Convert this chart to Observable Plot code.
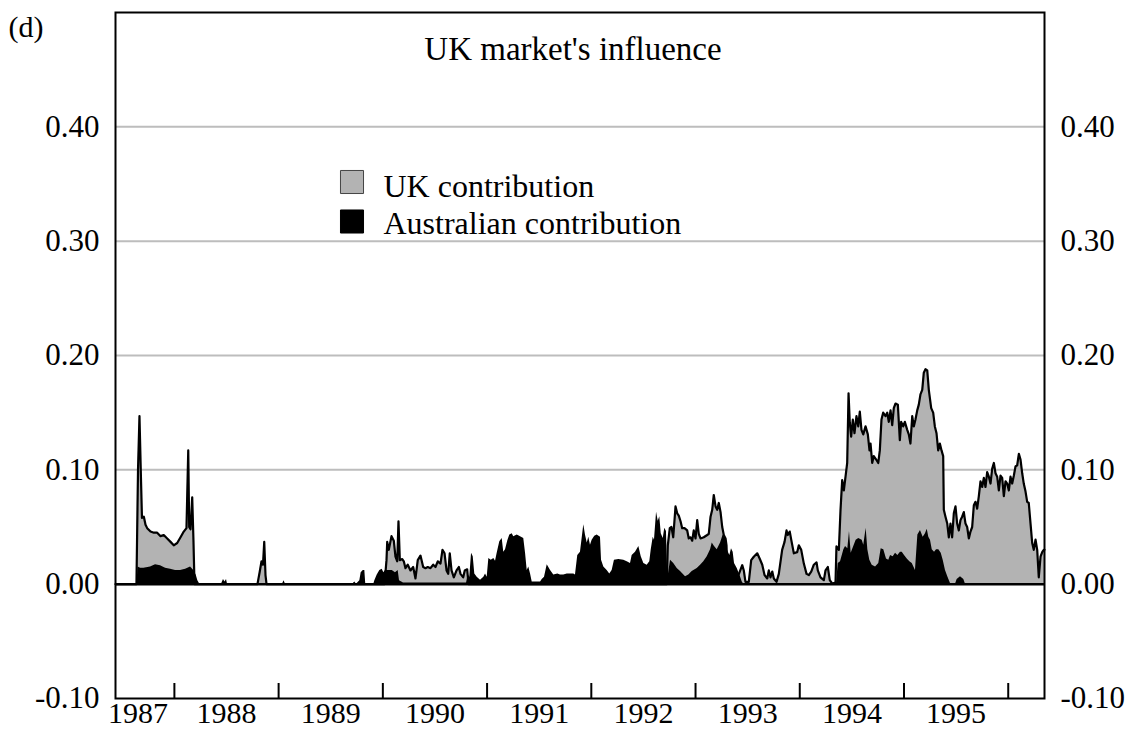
<!DOCTYPE html>
<html>
<head>
<meta charset="utf-8">
<script src="https://cdn.jsdelivr.net/npm/d3@7"></script>
<script src="https://cdn.jsdelivr.net/npm/@observablehq/plot@0.6"></script>
<style>
  body { margin: 0; background: #fff; }
  #chart svg { display: block; }
</style>
</head>
<body>
<div id="chart"></div>
<script>
// ---- Data ----
const panelLabel = "(d)";
const chartTitle = "UK market's influence";
const seriesNames = ["UK contribution", "Australian contribution"];
const seriesColors = ["#b3b3b3", "#000000"];

// Upper (grey) layer: UK contribution
const ukYears = [
  1987.435, 1987.636, 1987.651, 1987.665, 1987.680, 1987.689, 1987.707, 1987.723, 1987.739, 1987.771,
  1987.803, 1987.835, 1987.867, 1987.898, 1987.931, 1987.963, 1987.994, 1988.027, 1988.059, 1988.090,
  1988.116, 1988.133, 1988.142, 1988.155, 1988.171, 1988.183, 1988.193,
  1988.797, 1988.817, 1988.836, 1988.850, 1988.862, 1988.874, 1988.884,
  1990.016, 1990.035, 1990.042, 1990.057, 1990.083, 1990.105, 1990.121, 1990.138, 1990.150, 1990.163,
  1990.186, 1990.201, 1990.217, 1990.239, 1990.265, 1990.291, 1990.313, 1990.335, 1990.361, 1990.387,
  1990.409, 1990.431, 1990.457, 1990.483, 1990.505, 1990.527, 1990.553, 1990.572, 1990.592, 1990.611,
  1990.627, 1990.642, 1990.659, 1990.681, 1990.707, 1990.729, 1990.745, 1990.771, 1990.786, 1990.809,
  1990.822,
  1992.724, 1992.734, 1992.753, 1992.769, 1992.786, 1992.808, 1992.824, 1992.839, 1992.856, 1992.872,
  1992.894, 1992.920, 1992.935, 1992.952, 1992.968, 1992.983, 1993.000, 1993.016, 1993.031, 1993.048,
  1993.079, 1993.112, 1993.127, 1993.144, 1993.160, 1993.175, 1993.192, 1993.208, 1993.223, 1993.240,
  1993.256, 1993.271, 1993.288, 1993.297, 1993.304, 1993.400, 1993.448, 1993.463, 1993.479, 1993.511,
  1993.534, 1993.559, 1993.592, 1993.617, 1993.640, 1993.662, 1993.688, 1993.703, 1993.719, 1993.736,
  1993.751, 1993.777, 1993.799, 1993.831, 1993.854, 1993.873, 1993.885, 1993.904, 1993.918, 1993.943,
  1993.975, 1993.991, 1994.014, 1994.039, 1994.065, 1994.087, 1994.110, 1994.135, 1994.161, 1994.173,
  1994.199, 1994.231, 1994.247, 1994.269, 1994.288, 1994.311, 1994.343, 1994.352, 1994.375, 1994.391,
  1994.407, 1994.423, 1994.439, 1994.455, 1994.468, 1994.480, 1994.493, 1994.509, 1994.525, 1994.544,
  1994.561, 1994.576, 1994.592, 1994.609, 1994.631, 1994.653, 1994.669, 1994.679, 1994.695, 1994.710,
  1994.733, 1994.753, 1994.768, 1994.784, 1994.800, 1994.823, 1994.839, 1994.854, 1994.871, 1994.887,
  1994.902, 1994.919, 1994.941, 1994.960, 1994.973, 1994.992, 1995.008, 1995.031, 1995.046, 1995.062,
  1995.079, 1995.094, 1995.110, 1995.127, 1995.142, 1995.158, 1995.175, 1995.190, 1995.206, 1995.223,
  1995.238, 1995.261, 1995.280, 1995.296, 1995.312, 1995.328, 1995.344, 1995.360, 1995.376, 1995.382,
  1995.398, 1995.415, 1995.430, 1995.446, 1995.462, 1995.478, 1995.494, 1995.510, 1995.526, 1995.542,
  1995.558, 1995.574, 1995.590, 1995.606, 1995.622, 1995.638, 1995.654, 1995.670, 1995.686, 1995.702,
  1995.718, 1995.734, 1995.750, 1995.766, 1995.782, 1995.798, 1995.814, 1995.830, 1995.846, 1995.862,
  1995.878, 1995.894, 1995.910, 1995.926, 1995.942, 1995.958, 1995.974, 1995.990, 1996.006, 1996.022,
  1996.038, 1996.054, 1996.070, 1996.086, 1996.102, 1996.118, 1996.134, 1996.149, 1996.166, 1996.182,
  1996.197, 1996.214, 1996.230, 1996.245, 1996.262, 1996.278, 1996.293, 1996.310, 1996.326, 1996.341,
  1996.348
];
const ukValues = [
  0, 0, 0.100, 0.147, 0.090, 0.058, 0.059, 0.052, 0.049, 0.046,
  0.045, 0.045, 0.042, 0.043, 0.040, 0.037, 0.034, 0.036, 0.041, 0.046,
  0.049, 0.117, 0.050, 0.048, 0.076, 0.038, 0,
  0, 0.010, 0.020, 0.017, 0.037, 0.008, 0,
  0, 0.021, 0.037, 0.030, 0.042, 0.038, 0.024, 0.020, 0.055, 0.021,
  0.022, 0.020, 0.014, 0.017, 0.012, 0.015, 0.005, 0.021, 0.025, 0.015,
  0.014, 0.015, 0.014, 0.017, 0.015, 0.020, 0.018, 0.030, 0.027, 0.012,
  0.009, 0.027, 0.012, 0.006, 0.012, 0.015, 0.009, 0.006, 0.012, 0.013,
  0,
  0, 0.034, 0.049, 0.050, 0.041, 0.068, 0.062, 0.060, 0.055, 0.049,
  0.049, 0.047, 0.040, 0.041, 0.038, 0.047, 0.040, 0.056, 0.044, 0.040,
  0.041, 0.043, 0.044, 0.059, 0.065, 0.078, 0.068, 0.065, 0.071, 0.063,
  0.050, 0.043, 0.040, 0.034, 0.015, 0.005, 0.0166, 0.012, 0.002, 0.002,
  0.021, 0.024, 0.027, 0.022, 0.017, 0.008, 0.005, 0.012, 0.006, 0.011,
  0.005, 0.002, 0.009, 0.030, 0.037, 0.047, 0.043, 0.046, 0.039, 0.027,
  0.028, 0.034, 0.030, 0.018, 0.009, 0.008, 0.011, 0.017, 0.019, 0.012,
  0.006, 0.0035, 0.012, 0.015, 0.0035, 0.0006, 0.0015, 0.033, 0.030, 0.065,
  0.091, 0.082, 0.094, 0.106, 0.167, 0.141, 0.129, 0.144, 0.132, 0.147,
  0.138, 0.151, 0.135, 0.131, 0.138, 0.131, 0.117, 0.123, 0.106, 0.112,
  0.109, 0.106, 0.117, 0.144, 0.150, 0.147, 0.150, 0.142, 0.152, 0.139,
  0.154, 0.158, 0.157, 0.126, 0.142, 0.138, 0.142, 0.135, 0.131, 0.123,
  0.147, 0.138, 0.144, 0.152, 0.157, 0.166, 0.170, 0.185, 0.188, 0.187,
  0.170, 0.154, 0.150, 0.138, 0.132, 0.117, 0.123, 0.117, 0.112, 0.065,
  0.059, 0.053, 0.041, 0.053, 0.041, 0.062, 0.068, 0.053, 0.047, 0.056,
  0.059, 0.063, 0.053, 0.050, 0.040, 0.046, 0.050, 0.069, 0.072, 0.066,
  0.077, 0.090, 0.085, 0.093, 0.085, 0.098, 0.094, 0.088, 0.101, 0.106,
  0.097, 0.094, 0.082, 0.095, 0.093, 0.077, 0.090, 0.088, 0.082, 0.094,
  0.088, 0.095, 0.103, 0.104, 0.114, 0.109, 0.097, 0.088, 0.081, 0.072,
  0.071, 0.053, 0.036, 0.030, 0.039, 0.030, 0.006, 0.024, 0.028, 0.030,
  0.030
];

// Lower (black) layer: Australian contribution
const ausYears = [
  1987.435, 1987.641, 1987.651, 1987.675, 1987.707, 1987.771, 1987.819, 1987.867, 1987.915, 1987.963,
  1988.011, 1988.059, 1988.107, 1988.129, 1988.155, 1988.186, 1988.209, 1988.225, 1988.244,
  1988.452, 1988.471, 1988.486, 1988.500, 1988.510, 1989.037, 1989.052, 1989.066,
  1989.709, 1989.731, 1989.747, 1989.779, 1989.792, 1989.812, 1989.827, 1989.836,
  1989.913, 1989.923, 1989.946, 1989.971, 1989.994, 1990.009, 1990.025, 1990.057, 1990.090, 1990.121,
  1990.147, 1990.160, 1990.198, 1990.803, 1990.819, 1990.834, 1990.851, 1990.867, 1990.882, 1990.905,
  1990.937, 1990.969, 1990.985, 1991.001, 1991.017, 1991.040, 1991.065, 1991.081, 1991.097, 1991.122,
  1991.145, 1991.160, 1991.177, 1991.199, 1991.218, 1991.241, 1991.256, 1991.289, 1991.321, 1991.352,
  1991.369, 1991.385, 1991.400, 1991.417, 1991.433, 1991.513, 1991.529, 1991.551, 1991.577, 1991.609,
  1991.640, 1991.679, 1991.704, 1991.736, 1991.769, 1991.800, 1991.832, 1991.848, 1991.870, 1991.896,
  1991.928, 1991.944, 1991.961, 1991.976, 1991.992, 1992.008, 1992.033, 1992.056, 1992.088, 1992.098,
  1992.120, 1992.152, 1992.177, 1992.200, 1992.222, 1992.264, 1992.312, 1992.344, 1992.376, 1992.392,
  1992.424, 1992.456, 1992.479, 1992.504, 1992.536, 1992.561, 1992.575, 1992.594, 1992.606, 1992.626,
  1992.642, 1992.657, 1992.671, 1992.690, 1992.705, 1992.721, 1992.734, 1992.760, 1992.791, 1992.824,
  1992.856, 1992.904, 1992.935, 1992.968, 1993.016, 1993.048, 1993.079, 1993.112, 1993.144, 1993.160,
  1993.182, 1993.208, 1993.240, 1993.265, 1993.288, 1993.304, 1993.329, 1993.345, 1993.361, 1993.374,
  1993.400, 1993.431, 1993.448, 1993.463, 1994.352, 1994.369, 1994.391, 1994.423, 1994.439, 1994.461,
  1994.477, 1994.493, 1994.518, 1994.541, 1994.566, 1994.599, 1994.614, 1994.637, 1994.653, 1994.672,
  1994.695, 1994.727, 1994.758, 1994.781, 1994.806, 1994.832, 1994.854, 1994.871, 1994.896, 1994.919,
  1994.941, 1994.966, 1994.983, 1995.005, 1995.031, 1995.056, 1995.079, 1995.110, 1995.133, 1995.158,
  1995.184, 1995.206, 1995.223, 1995.238, 1995.254, 1995.271, 1995.293, 1995.312, 1995.334, 1995.357,
  1995.376, 1995.398, 1995.420, 1995.446, 1995.494, 1995.510, 1995.542, 1995.574, 1995.590, 1996.348
];
const ausValues = [
  0, 0, 0.015, 0.014, 0.014, 0.015, 0.017, 0.016, 0.014, 0.013,
  0.012, 0.012, 0.013, 0.014, 0.015, 0.012, 0.008, 0.003, 0,
  0, 0.004, 0.002, 0.004, 0, 0, 0.003, 0,
  0, 0.002, 0, 0.003, 0.010, 0.012, 0.012, 0,
  0, 0.003, 0.008, 0.012, 0.013, 0.010, 0.012, 0.012, 0.012, 0.010,
  0.012, 0.003, 0.001, 0.001, 0.008, 0.006, 0.027, 0.024, 0.009, 0.006,
  0.0035, 0.006, 0.009, 0.006, 0.0225, 0.021, 0.0225, 0.020, 0.027, 0.037,
  0.040, 0.028, 0.030, 0.038, 0.043, 0.044, 0.0415, 0.043, 0.0415, 0.040,
  0.027, 0.012, 0.015, 0.009, 0.002, 0.002, 0.004, 0.006, 0.017, 0.012,
  0.008, 0.009, 0.008, 0.008, 0.009, 0.009, 0.009, 0.008, 0.025, 0.028,
  0.052, 0.043, 0.036, 0.041, 0.034, 0.0385, 0.042, 0.043, 0.041, 0.021,
  0.015, 0.012, 0.009, 0.012, 0.021, 0.0216, 0.021, 0.0195, 0.018, 0.025,
  0.028, 0.033, 0.024, 0.018, 0.0166, 0.0195, 0.030, 0.041, 0.0385, 0.063,
  0.055, 0.059, 0.044, 0.040, 0.049, 0.046, 0.005, 0.021, 0.018, 0.0137,
  0.011, 0.0064, 0.008, 0.011, 0.0137, 0.0166, 0.0195, 0.024, 0.030, 0.036,
  0.033, 0.030, 0.036, 0.043, 0.040, 0.030, 0.025, 0.031, 0.028, 0.018,
  0.0137, 0.0064, 0.002, 0, 0, 0.018, 0.0195, 0.030, 0.033, 0.031,
  0.046, 0.027, 0.033, 0.0385, 0.040, 0.0385, 0.034, 0.049, 0.030, 0.021,
  0.0166, 0.015, 0.018, 0.031, 0.030, 0.022, 0.021, 0.025, 0.024, 0.027,
  0.025, 0.028, 0.028, 0.025, 0.022, 0.0195, 0.018, 0.012, 0.043, 0.047,
  0.041, 0.044, 0.048, 0.041, 0.0385, 0.030, 0.028, 0.030, 0.030, 0.027,
  0.021, 0.012, 0.0064, 0.0006, 0, 0.004, 0.0064, 0.004, 0, 0
];

// Axes
const yTickValues = [-0.1, 0, 0.1, 0.2, 0.3, 0.4];
const gridValues = [0.1, 0.2, 0.3, 0.4];
const yearBoundaries = [1988, 1989, 1990, 1991, 1992, 1993, 1994, 1995, 1996];
const yearLabels = ["1987", "1988", "1989", "1990", "1991", "1992", "1993", "1994", "1995"];
const yearLabelPositions = [1987.65, 1988.5, 1989.5, 1990.5, 1991.5, 1992.5, 1993.5, 1994.5, 1995.5];
const xDomain = [1987.435, 1996.348];
const yDomain = [-0.1, 0.5];

// ---- Build ----
const uk = ukYears.map((year, i) => ({year, value: ukValues[i]}));
const aus = ausYears.map((year, i) => ({year, value: ausValues[i]}));
const serif = "'Liberation Serif', 'Times New Roman', Times, serif";
const tickLength = (yDomain[1] - yDomain[0]) * 15 / 686;

const chart = Plot.plot({
  width: 1134,
  height: 729,
  marginLeft: 115,
  marginRight: 90,
  marginTop: 12,
  marginBottom: 31,
  x: {domain: xDomain, axis: null},
  y: {domain: yDomain, axis: null},
  style: {fontFamily: serif, background: "#ffffff", color: "#000", overflow: "visible"},
  marks: [
    Plot.ruleY(gridValues, {stroke: "#bdbdbd", strokeWidth: 2}),
    Plot.areaY(uk, {x: "year", y1: 0, y2: "value", fill: seriesColors[0]}),
    Plot.areaY(aus, {x: "year", y1: 0, y2: "value", fill: seriesColors[1]}),
    Plot.lineY(uk, {x: "year", y: "value", stroke: "#000", strokeWidth: 2.2}),
    Plot.ruleY([0], {stroke: "#000", strokeWidth: 2.5}),
    Plot.frame({stroke: "#000", strokeWidth: 2}),
    Plot.ruleX(yearBoundaries, {y1: yDomain[0], y2: yDomain[0] + tickLength, stroke: "#000", strokeWidth: 2}),
    Plot.text(yTickValues, {y: d => d, text: d => d.toFixed(2), frameAnchor: "left", dx: -16,
      textAnchor: "end", lineAnchor: "middle", fontSize: 31, fontFamily: serif, fill: "#000"}),
    Plot.text(yTickValues, {y: d => d, text: d => d.toFixed(2), frameAnchor: "right", dx: 16,
      textAnchor: "start", lineAnchor: "middle", fontSize: 31, fontFamily: serif, fill: "#000"}),
    Plot.text(yearLabelPositions, {x: d => d, text: (d, i) => yearLabels[i], frameAnchor: "bottom", dy: 15,
      lineAnchor: "middle", fontSize: 30, fontFamily: serif, fill: "#000"}),
    // title and panel label
    Plot.text([chartTitle], {frameAnchor: "top", dx: -7, dy: 37, lineAnchor: "middle",
      fontSize: 33, fontFamily: serif, fill: "#000"}),
    Plot.text([panelLabel], {frameAnchor: "top-left", dx: -107, dy: 15, textAnchor: "start", lineAnchor: "middle",
      fontSize: 30, fontFamily: serif, fill: "#000"}),
    // legend
    Plot.dot([seriesNames[0]], {frameAnchor: "top-left", dx: 236.5, dy: 169.5, symbol: "square", r: 13,
      fill: seriesColors[0], stroke: "#444", strokeWidth: 1}),
    Plot.dot([seriesNames[1]], {frameAnchor: "top-left", dx: 236.5, dy: 209, symbol: "square", r: 13,
      fill: seriesColors[1], stroke: "#000", strokeWidth: 1}),
    Plot.text([seriesNames[0]], {frameAnchor: "top-left", dx: 268, dy: 174, textAnchor: "start", lineAnchor: "middle",
      fontSize: 32, fontFamily: serif, fill: "#000"}),
    Plot.text([seriesNames[1]], {frameAnchor: "top-left", dx: 268, dy: 211, textAnchor: "start", lineAnchor: "middle",
      fontSize: 32, fontFamily: serif, fill: "#000"})
  ]
});
document.getElementById("chart").appendChild(chart);
</script>
</body>
</html>
